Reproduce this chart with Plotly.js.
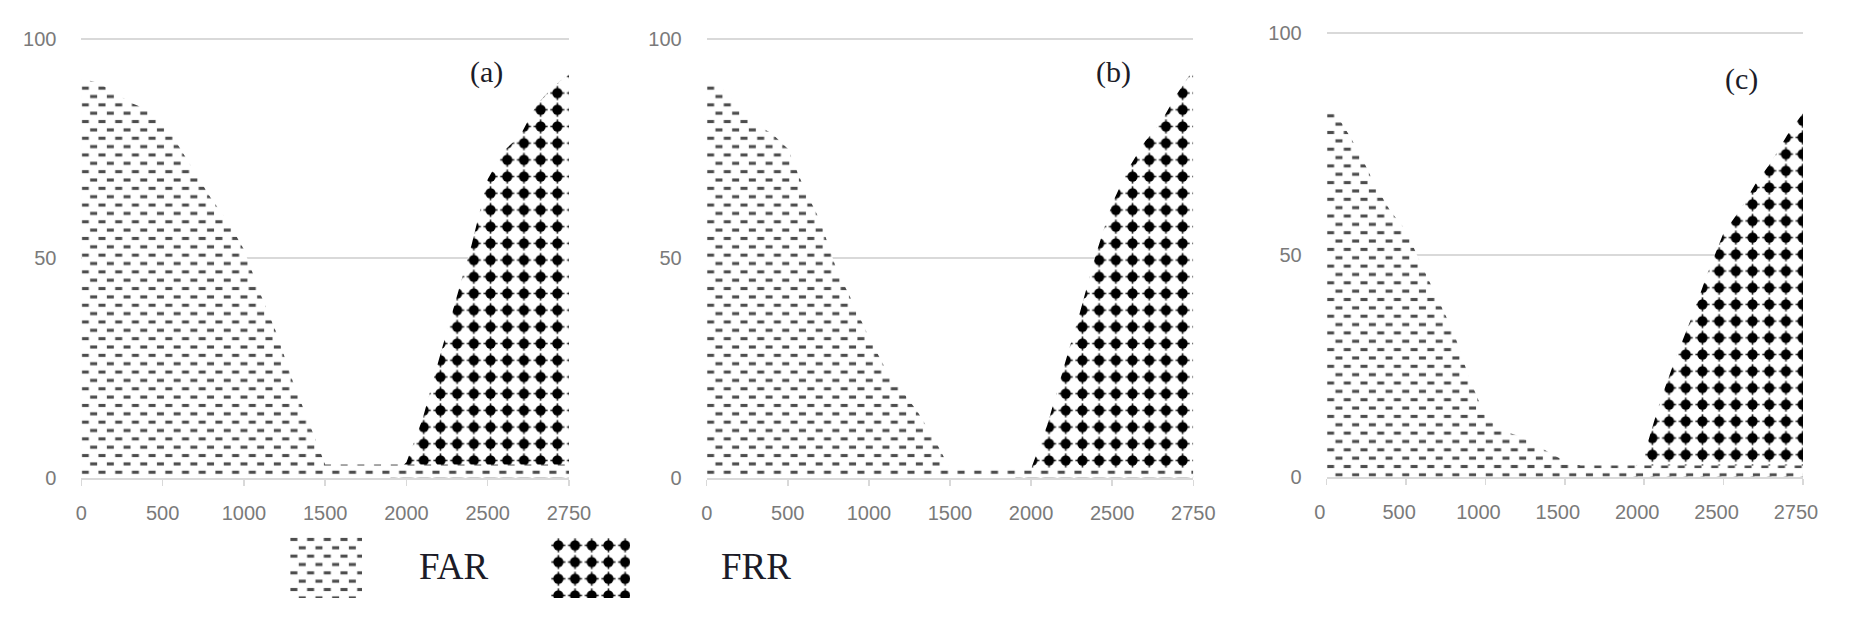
<!DOCTYPE html>
<html>
<head>
<meta charset="utf-8">
<script src="https://cdn.plot.ly/plotly-3.0.1.min.js"></script>
<style>
  html, body { margin: 0; padding: 0; background: #fff; }
  #chart { width: 1857px; height: 622px; }
</style>
</head>
<body>
<div id="chart"></div>
<script>
// thresholds on the category axis (100 steps up to 2500, then 50 steps)
var thresholds = ['0', '100', '200', '300', '400', '500', '600', '700', '800', '900',
  '1000', '1100', '1200', '1300', '1400', '1500', '1600', '1700', '1800', '1900',
  '2000', '2100', '2200', '2300', '2400', '2500', '2550', '2600', '2650', '2700', '2750'];
var tickLabels = ['0', '500', '1000', '1500', '2000', '2500', '2750'];

// (a)
var farA = [91, 90, 88, 85.5, 84, 81.5, 75.5, 69.5, 63.5, 58.5,
  52, 42, 33, 22, 12.5, 3, 3, 3, 3, 3,
  3, 3, 3, 3, 3, 3, 3, 3, 3, 3, 3];
var frrA = [0, 0, 0, 0, 0, 0, 0, 0, 0, 0,
  0, 0, 0, 0, 0, 0, 0, 0, 0, 0,
  3.5, 13.5, 27, 40, 53, 68, 74.5, 78, 85, 89, 92];

// (b)
var farB = [91, 88.5, 84.5, 80.5, 78.5, 75, 66, 58.5, 47.5, 40,
  32, 25, 20, 15, 9, 2, 2, 2, 2, 2,
  2, 2, 2, 2, 2, 2, 2, 2, 2, 2, 2];
var frrB = [0, 0, 0, 0, 0, 0, 0, 0, 0, 0,
  0, 0, 0, 0, 0, 0, 0, 0, 0, 0,
  2, 12, 25, 37.5, 51, 62.5, 70.5, 76.5, 81, 87.5, 93];

// (c)
var farC = [84, 79.5, 73.5, 66, 60, 55.5, 47.5, 40, 32.5, 22,
  13.5, 10.5, 9.3, 7.5, 5.5, 3.5, 2.5, 2.5, 2.5, 2.5,
  2.5, 2.5, 2.5, 2.5, 2.5, 2.5, 2.5, 2.5, 2.5, 2.5, 2.5];
var frrC = [0, 0, 0, 0, 0, 0, 0, 0, 0, 0,
  0, 0, 0, 0, 0, 0, 0, 0, 0, 0,
  5, 17, 27, 36, 46, 55, 60, 66, 71, 77, 82];

var panelNames = ['(a)', '(b)', '(c)'];
var seriesNames = ['FAR', 'FRR'];

var W = 1857, H = 622;
var FAR_INK = '#4d4d4d';
var TILE = 16.7;

var farPattern = { shape: '-', size: TILE, solidity: 0.16, fgcolor: FAR_INK, bgcolor: '#ffffff' };
var frrPattern = { shape: '.', size: TILE, solidity: 0.3, fgcolor: '#000000', bgcolor: '#ffffff' };

function area(values, id, pattern) {
  return {
    type: 'scatter',
    mode: 'lines',
    x: thresholds,
    y: values,
    xaxis: 'x' + id,
    yaxis: 'y' + id,
    fill: 'tozeroy',
    fillpattern: pattern,
    line: { width: 0, color: 'rgba(0,0,0,0)' },
    hoverinfo: 'skip',
    showlegend: false
  };
}

function swatch(id, pattern) {
  return {
    type: 'bar',
    x: [0],
    y: [1],
    width: [1],
    xaxis: 'x' + id,
    yaxis: 'y' + id,
    marker: { color: '#ffffff', line: { width: 0 }, pattern: pattern },
    hoverinfo: 'skip',
    showlegend: false
  };
}

// FRR first, FAR on top of it (FAR covers the bottom strip)
var data = [
  area(frrA, '', frrPattern), area(farA, '', farPattern),
  area(frrB, '2', frrPattern), area(farB, '2', farPattern),
  area(frrC, '3', frrPattern), area(farC, '3', farPattern),
  swatch('4', farPattern), swatch('5', frrPattern)
];

var tickFont = { family: 'Liberation Sans, Arial, sans-serif', size: 20, color: '#7a7a7a' };

function px(x) { return x / W; }
function py(y) { return 1 - y / H; }

function xAxis(left, right, anchor, shift) {
  return {
    domain: [px(left), px(right)],
    anchor: anchor,
    type: 'category',
    categoryorder: 'array',
    categoryarray: thresholds,
    range: [0, thresholds.length - 1],
    tickmode: 'array',
    tickvals: tickLabels,
    ticktext: tickLabels,
    ticks: 'outside',
    ticklen: 6,
    tickwidth: 1.5,
    tickcolor: '#d9d9d9',
    showline: true,
    linecolor: '#d9d9d9',
    linewidth: 2,
    showgrid: false,
    zeroline: false,
    tickfont: tickFont,
    ticklabelstandoff: 10,
    ticklabelshift: shift,
    fixedrange: true
  };
}

// range top a little above 100 so the 100 gridline is drawn
var Y_TOP = 101;

function yAxis(top100, bottom, anchor) {
  var top = top100 - (bottom - top100) * (Y_TOP - 100) / 100;
  return {
    domain: [py(bottom), py(top)],
    anchor: anchor,
    range: [0, Y_TOP],
    tickmode: 'array',
    tickvals: [0, 50, 100],
    showgrid: true,
    gridcolor: '#d9d9d9',
    gridwidth: 2,
    zeroline: false,
    showline: false,
    ticks: '',
    tickfont: tickFont,
    ticklabelstandoff: 24,
    fixedrange: true
  };
}

function hidden(domain, range, anchor) {
  return { domain: domain, range: range, anchor: anchor, visible: false, fixedrange: true };
}

var labelFont = { family: 'Liberation Serif, Times New Roman, serif', size: 30, color: '#1c1c28' };
var legendFont = { family: 'Liberation Serif, Times New Roman, serif', size: 37, color: '#1c1c28' };

function note(text, x, y, font) {
  return { text: text, x: px(x), y: py(y), xref: 'paper', yref: 'paper',
    xanchor: 'center', yanchor: 'middle', showarrow: false, font: font };
}

var layout = {
  width: W,
  height: H,
  margin: { l: 0, r: 0, t: 0, b: 0 },
  paper_bgcolor: '#ffffff',
  plot_bgcolor: 'rgba(0,0,0,0)',
  showlegend: false,
  xaxis: xAxis(81.4, 569, 'y', 0),
  yaxis: yAxis(39, 477.6, 'x'),
  xaxis2: xAxis(706.7, 1193.3, 'y2', 0),
  yaxis2: yAxis(39, 477.6, 'x2'),
  xaxis3: xAxis(1326.7, 1803, 'y3', -7),
  yaxis3: yAxis(33.3, 476.7, 'x3'),
  xaxis4: hidden([px(290), px(362)], [-0.5, 0.5], 'y4'),
  yaxis4: hidden([py(598), py(536)], [0, 1], 'x4'),
  xaxis5: hidden([px(550), px(630)], [-0.5, 0.5], 'y5'),
  yaxis5: hidden([py(598), py(537)], [0, 1], 'x5'),
  annotations: [
    note(panelNames[0], 486, 72, labelFont),
    note(panelNames[1], 1113, 72, labelFont),
    note(panelNames[2], 1741, 79, labelFont),
    note(seriesNames[0], 454, 566, legendFont),
    note(seriesNames[1], 756, 566, legendFont)
  ]
};

// Excel-like fills: '-' tiles become staggered dashes, '.' tiles become round dots with thin arms
function excelTiles(gd) {
  var s = TILE, c = s / 2;
  gd.querySelectorAll('pattern').forEach(function (p) {
    var html = null;
    if (p.querySelector('path')) {
      html =
        '<rect width="' + s + '" height="' + s + '" fill="#ffffff"></rect>' +
        '<rect x="0.4" y="1.9" width="7" height="3.1" fill="' + FAR_INK + '"></rect>' +
        '<rect x="8.75" y="10.25" width="7" height="3.1" fill="' + FAR_INK + '"></rect>';
    } else if (p.querySelector('circle')) {
      html =
        '<rect width="' + s + '" height="' + s + '" fill="#ffffff"></rect>' +
        '<rect x="' + (c - 7) + '" y="' + (c - 0.8) + '" width="14" height="1.6" fill="#222222"></rect>' +
        '<rect x="' + (c - 0.8) + '" y="' + (c - 7) + '" width="1.6" height="14" fill="#222222"></rect>' +
        '<circle cx="' + c + '" cy="' + c + '" r="5.1" fill="#000000"></circle>';
    }
    if (!html) return;
    p.setAttribute('width', s);
    p.setAttribute('height', s);
    p.innerHTML = html;
  });
}

Plotly.newPlot('chart', data, layout, { staticPlot: true }).then(excelTiles);
</script>
</body>
</html>
